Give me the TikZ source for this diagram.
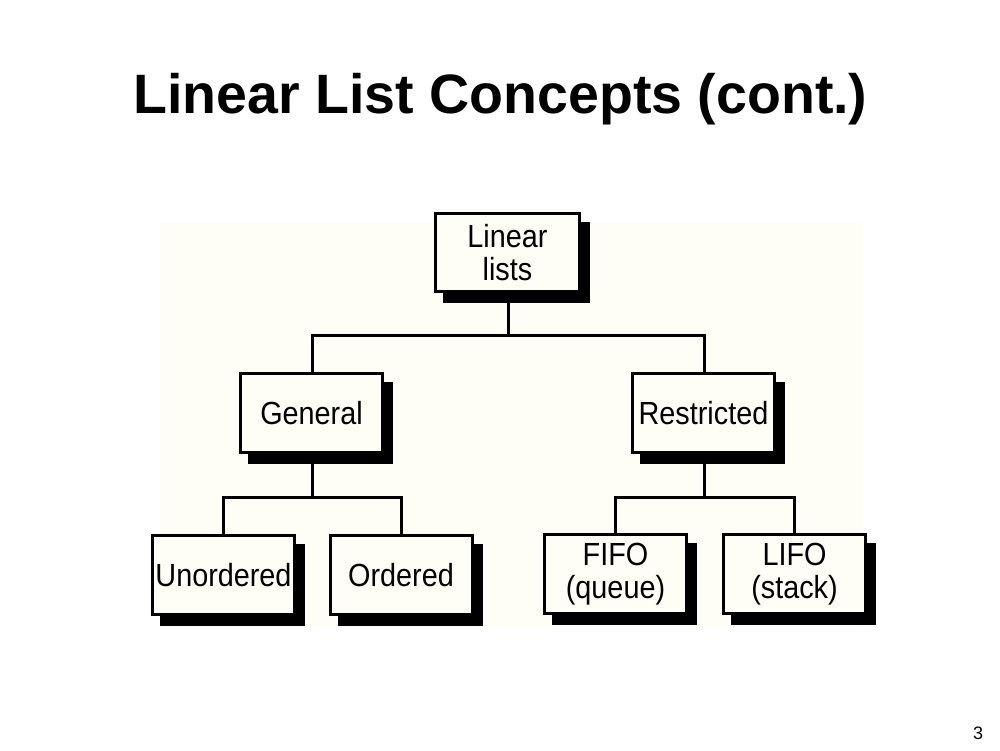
\documentclass[tikz,border=0pt]{standalone}
\usepackage{fontspec}
\setmainfont{Liberation Sans}
\newfontfamily\boxfont[FakeStretch=0.9]{Liberation Sans}
\usetikzlibrary{shadows}
\definecolor{panel}{RGB}{254,254,247}
\tikzset{
  box/.style={draw=black, line width=3pt, fill=panel, minimum width=142pt, minimum height=79pt,
    inner sep=0pt, align=center, font=\boxfont\fontsize{32}{32.5}\selectfont,
    drop shadow={shadow xshift=9pt, shadow yshift=-10pt, fill=black, draw=black, line width=3pt, opacity=1}},
  link/.style={draw=black, line width=3pt, line cap=rect}
}
\begin{document}
\begin{tikzpicture}[x=1pt,y=-1pt]
\useasboundingbox (0,0) rectangle (1000,750);
\fill[white] (0,0) rectangle (1000,750);
\fill[panel] (160,223) rectangle (863,627);
\node[anchor=base, font=\fontsize{55.5}{60}\selectfont\bfseries] (title) at (500.5,113) {Linear List Concepts (cont.)};
\node[anchor=base, font=\fontsize{18}{20}\selectfont] (page) at (978,739) {3};

\coordinate (j0) at (508,335);
\coordinate (j0l) at (312,335);
\coordinate (j0r) at (704,335);
\coordinate (j1) at (312,497);
\coordinate (j1l) at (223.5,497);
\coordinate (j1r) at (401,497);
\coordinate (j2) at (704,497);
\coordinate (j2l) at (615.5,497);
\coordinate (j2r) at (794.5,497);

\draw[link] (508,290) -- (j0);
\draw[link] (j0l) -- (j0r);
\draw[link] (j0l) -- (312,380);
\draw[link] (j0r) -- (704,380);
\draw[link] (312,450) -- (j1);
\draw[link] (j1l) -- (j1r);
\draw[link] (j1l) -- (223.5,540);
\draw[link] (j1r) -- (401,540);
\draw[link] (704,450) -- (j2);
\draw[link] (j2l) -- (j2r);
\draw[link] (j2l) -- (615.5,540);
\draw[link] (j2r) -- (794.5,540);

\node[box, minimum width=144pt, minimum height=78pt] (linear) at (507.5,252.5) {Linear\\lists};
\node[box] (general) at (311.5,413) {General};
\node[box] (restricted) at (703.5,413) {Restricted};
\node[box] (unordered) at (223.5,575) {Unordered};
\node[box] (ordered) at (401,575) {Ordered};
\node[box] (fifo) at (615.5,574) {FIFO\\(queue)};
\node[box] (lifo) at (794.5,574) {LIFO\\(stack)};
\end{tikzpicture}
\end{document}
